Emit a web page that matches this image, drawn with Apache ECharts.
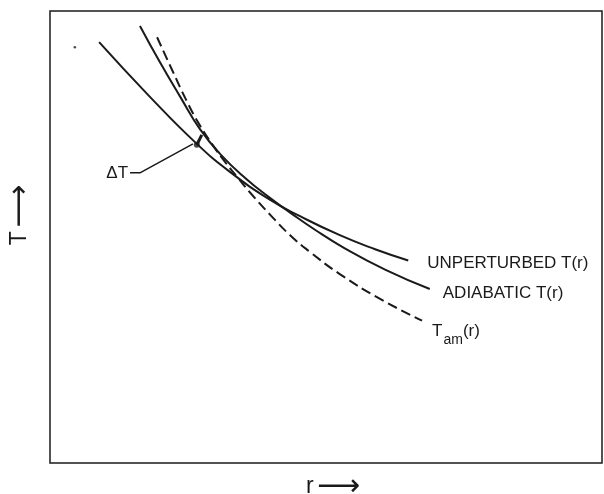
<!DOCTYPE html>
<html>
<head>
<meta charset="utf-8">
<script src="https://cdn.jsdelivr.net/npm/echarts@6/dist/echarts.min.js"></script>
<style>html,body{margin:0;padding:0;background:#fff;}#c{width:604px;height:494px;}</style>
</head>
<body>
<div id="c"></div>
<script>
// r (arbitrary units) and T (arbitrary units), read from the schematic
const unpR = [0.89, 1.78, 2.66, 3.26, 3.99, 4.53, 5.25, 5.89, 6.49];
const unpT = [9.31, 8.14, 7.06, 6.44, 5.82, 5.46, 5.04, 4.73, 4.48];

const adiR = [1.63, 1.99, 2.36, 2.72, 3.08, 3.53, 3.99, 4.35, 4.80, 5.34, 6.07, 6.88];
const adiT = [9.67, 8.87, 8.10, 7.38, 6.84, 6.31, 5.86, 5.54, 5.16, 4.75, 4.28, 3.85];

const tamR = [1.94, 2.21, 2.48, 2.72, 2.94, 3.17, 3.39, 3.62, 3.99, 4.35, 4.71, 5.25, 5.98, 6.74];
const tamT = [9.42, 8.70, 8.00, 7.46, 7.05, 6.66, 6.33, 5.99, 5.49, 5.04, 4.67, 4.18, 3.63, 3.15];

// ΔT annotation: gap segment between curves and leader line to its label
const dtSegR = [2.66, 2.75];
const dtSegT = [7.04, 7.26];
const leaderR = [1.45, 1.63, 2.59];
const leaderT = [6.42, 6.42, 7.06];
const specR = [0.45];
const specT = [9.20];

const labels = {
  unp: 'UNPERTURBED T(r)',
  adi: 'ADIABATIC T(r)',
  tam: ['T', 'am', '(r)'],
  dt: 'ΔT',
  xName: 'r',
  yName: 'T'
};

const zip = (a, b) => a.map((v, i) => [v, b[i]]);
const ink = '#1a1a1a';
const font = 'Liberation Sans, Arial, sans-serif';
const nameRich = {
  n: {color: ink, fontSize: 23, fontFamily: font, lineHeight: 26},
  a: {color: ink, fontSize: 30, fontFamily: 'DejaVu Sans', lineHeight: 26}
};

const chart = echarts.init(document.getElementById('c'), null, {renderer: 'canvas'});
chart.setOption({
  backgroundColor: '#fff',
  animation: false,
  grid: {left: 50, right: 2, top: 11, bottom: 31, show: true, borderColor: ink, borderWidth: 1.5,
         containLabel: false, outerBoundsMode: 'none'},
  xAxis: {
    type: 'value', min: 0, max: 10,
    name: '{n|' + labels.xName + '} {a|⟶}', nameLocation: 'middle', nameGap: 11,
    nameTextStyle: {rich: nameRich, padding: [0, 0, 0, 14]},
    axisLine: {show: false}, axisTick: {show: false}, axisLabel: {show: false}, splitLine: {show: false}
  },
  yAxis: {
    type: 'value', min: 0, max: 10,
    name: '{n|' + labels.yName + '} {a|⟶}', nameLocation: 'middle', nameGap: 17, nameRotate: 90,
    nameTextStyle: {rich: nameRich, padding: [0, 0, 0, 44]},
    axisLine: {show: false}, axisTick: {show: false}, axisLabel: {show: false}, splitLine: {show: false}
  },
  series: [
    {
      type: 'line', data: zip(unpR, unpT), smooth: 0.5, symbol: 'none',
      lineStyle: {color: ink, width: 2},
      endLabel: {show: true, formatter: labels.unp, distance: 19, offset: [0, 3], color: ink, fontSize: 17, fontFamily: font}
    },
    {
      type: 'line', data: zip(adiR, adiT), smooth: 0.5, symbol: 'none',
      lineStyle: {color: ink, width: 2},
      endLabel: {show: true, formatter: labels.adi, distance: 13, offset: [0, 4], color: ink, fontSize: 17, fontFamily: font}
    },
    {
      type: 'line', data: zip(tamR, tamT), smooth: 0.5, symbol: 'none',
      lineStyle: {color: ink, width: 2, type: [10, 5]},
      endLabel: {
        show: true, distance: 10, offset: [0, 11],
        formatter: '{t|' + labels.tam[0] + '}{s|' + labels.tam[1] + '}{t|' + labels.tam[2] + '}',
        rich: {
          t: {color: ink, fontSize: 17, fontFamily: font},
          s: {color: ink, fontSize: 14, fontFamily: font, padding: [18, 0, 0, 1]}
        }
      }
    },
    {
      type: 'line', data: zip(dtSegR, dtSegT), symbol: 'none', silent: true,
      lineStyle: {color: ink, width: 3}
    },
    {
      type: 'line', data: zip(leaderR, leaderT), symbol: 'none', silent: true,
      lineStyle: {color: ink, width: 1.5},
      markPoint: {
        symbol: 'circle', symbolSize: 0,
        data: [{coord: [leaderR[0], leaderT[0]], label: {show: true, formatter: labels.dt, position: 'left', distance: 2, color: ink, fontSize: 17, fontFamily: font}}]
      }
    },
    {
      type: 'scatter', data: zip([dtSegR[0]], [dtSegT[0]]), symbolSize: 6, silent: true,
      itemStyle: {color: ink}
    },
    {
      type: 'scatter', data: zip(specR, specT), symbolSize: 2.5, silent: true,
      itemStyle: {color: ink}
    }
  ]
});
</script>
</body>
</html>
